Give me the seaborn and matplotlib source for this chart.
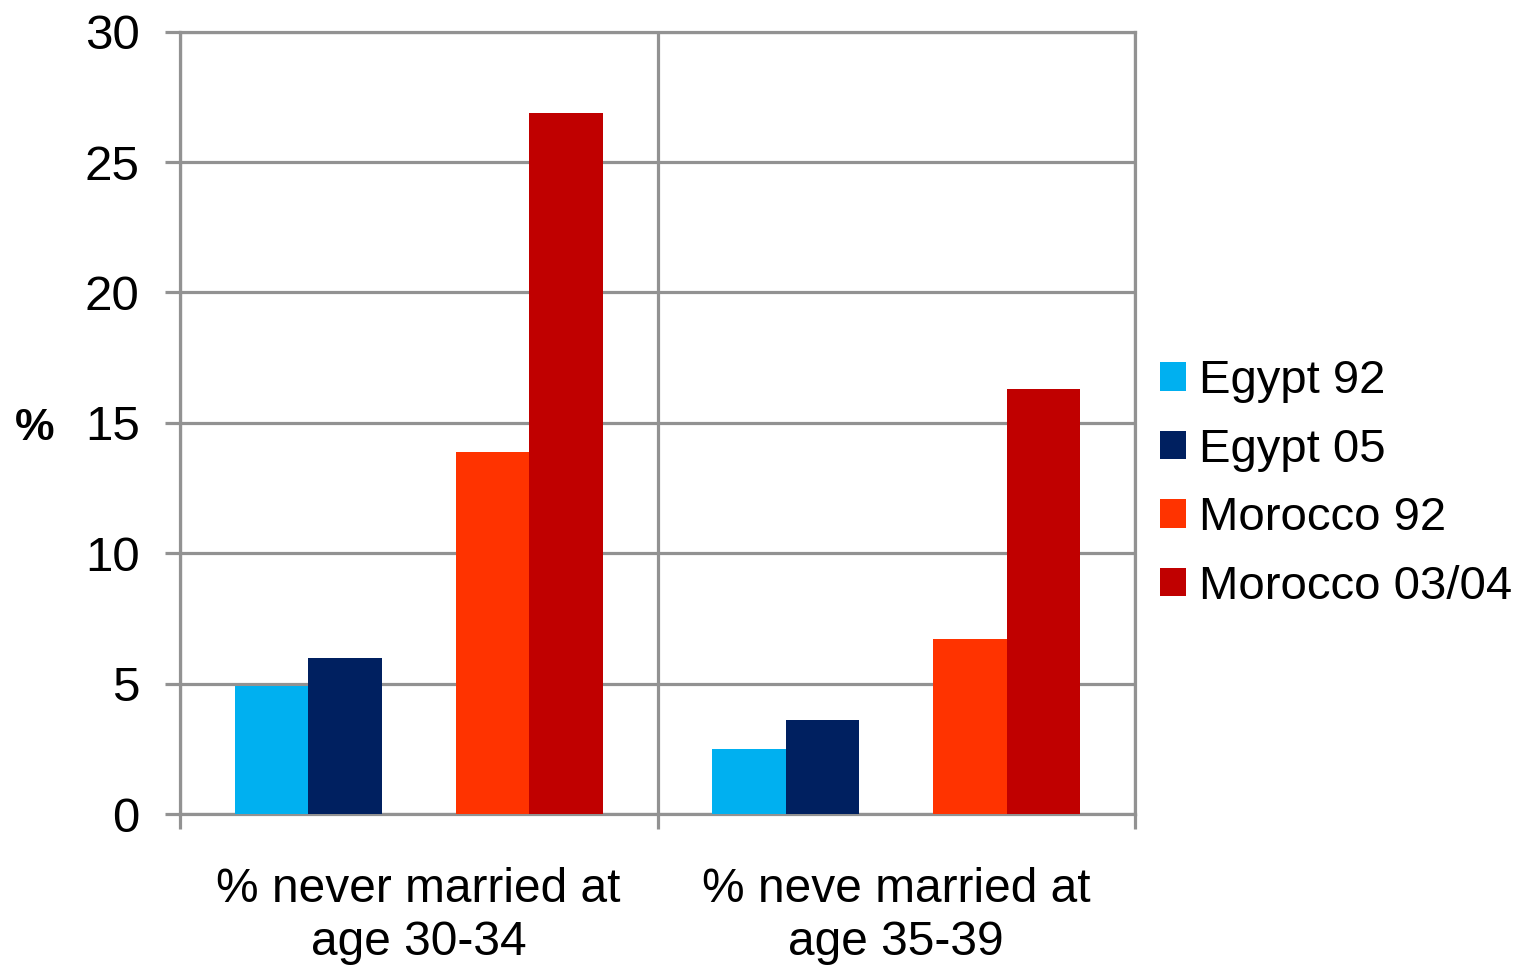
import matplotlib
matplotlib.use("Agg")
import matplotlib.pyplot as plt
from matplotlib.patches import Patch
from matplotlib.ticker import FixedLocator
import numpy as np
import pandas as pd
import seaborn as sns

# ---- data -------------------------------------------------------------
categories = ["% never married at\nage 30-34", "% neve married at\nage 35-39"]
series = ["Egypt 92", "Egypt 05", "Morocco 92", "Morocco 03/04"]
egypt_92 = [4.9, 2.5]
egypt_05 = [6.0, 3.6]
morocco_92 = [13.9, 6.7]
morocco_0304 = [26.9, 16.3]
y_ticks = [0, 5, 10, 15, 20, 25, 30]

colors = {
    "Egypt 92": "#00B0F0",
    "Egypt 05": "#002060",
    "Morocco 92": "#FF3300",
    "Morocco 03/04": "#C00000",
}

# ---- long-form table --------------------------------------------------
rows = []
for name, vals in zip(series, [egypt_92, egypt_05, morocco_92, morocco_0304]):
    for cat, v in zip(categories, vals):
        rows.append({"category": cat, "series": name, "value": v})
df = pd.DataFrame(rows)

# an empty hue slot keeps the Egypt pair apart from the Morocco pair
GAP = " "
hue_order = ["Egypt 92", "Egypt 05", GAP, "Morocco 92", "Morocco 03/04"]
palette = dict(colors)
palette[GAP] = "white"

# ---- styling ----------------------------------------------------------
sns.set_style("white")
plt.rcParams["font.family"] = ["Liberation Sans", "DejaVu Sans"]
plt.rcParams["text.color"] = "black"
plt.rcParams["xtick.labelcolor"] = "black"
plt.rcParams["ytick.labelcolor"] = "black"
plt.rcParams["axes.labelcolor"] = "black"
grid_col = "#929292"
grid_lw = 2.3

fig = plt.figure(figsize=(15.22, 9.66), dpi=100)
ax = fig.add_axes([180 / 1522, 1 - 814 / 966, (1135 - 180) / 1522, (814 - 31.7) / 966])

sns.barplot(
    data=df, x="category", y="value", hue="series",
    order=categories, hue_order=hue_order, palette=palette,
    width=0.77, linewidth=0, saturation=1, legend=False, ax=ax, zorder=3,
)

ax.set_xlim(-0.5, len(categories) - 0.5)
ax.set_ylim(0, 30)
ax.set_yticks(y_ticks)
ax.set_axisbelow(True)

# horizontal gridlines and category separators
ax.yaxis.grid(True, color=grid_col, linewidth=grid_lw, zorder=0)
ax.xaxis.set_minor_locator(FixedLocator(np.arange(-0.5, len(categories), 1.0)))
ax.xaxis.grid(True, which="minor", color=grid_col, linewidth=grid_lw, zorder=0)
ax.xaxis.grid(False, which="major")

for side in ["left", "right", "top", "bottom"]:
    ax.spines[side].set_color(grid_col)
    ax.spines[side].set_linewidth(grid_lw)

ax.tick_params(axis="y", which="major", length=11, width=grid_lw, color=grid_col,
               direction="out", pad=18, labelsize=35.5, left=True, labelcolor="black")
ax.tick_params(axis="x", which="minor", length=11, width=grid_lw, color=grid_col,
               direction="out", bottom=True)
ax.tick_params(axis="x", which="major", length=0, pad=38, labelsize=34.5,
               labelcolor="black")
for lbl in ax.get_xticklabels():
    lbl.set_linespacing(1.24)

ax.set_xlabel("")
ax.set_ylabel("%", rotation=0, fontsize=32, fontweight="bold", va="center", ha="center",
              color="black")
ax.yaxis.set_label_coords(-(180 - 35) / (1135 - 180), (814 - 428) / (814 - 31.7))

# legend
handles = [Patch(facecolor=colors[s], edgecolor="none") for s in series]
fig.legend(
    handles, series, loc="center left", bbox_to_anchor=(1160 / 1522, 1 - 484 / 966),
    frameon=False, fontsize=34, handlelength=0.55, handleheight=0.55,
    handletextpad=0.27, labelspacing=0.52, borderaxespad=0, borderpad=0,
    labelcolor="black",
)

fig.savefig("out.png", dpi=100, facecolor="white")
